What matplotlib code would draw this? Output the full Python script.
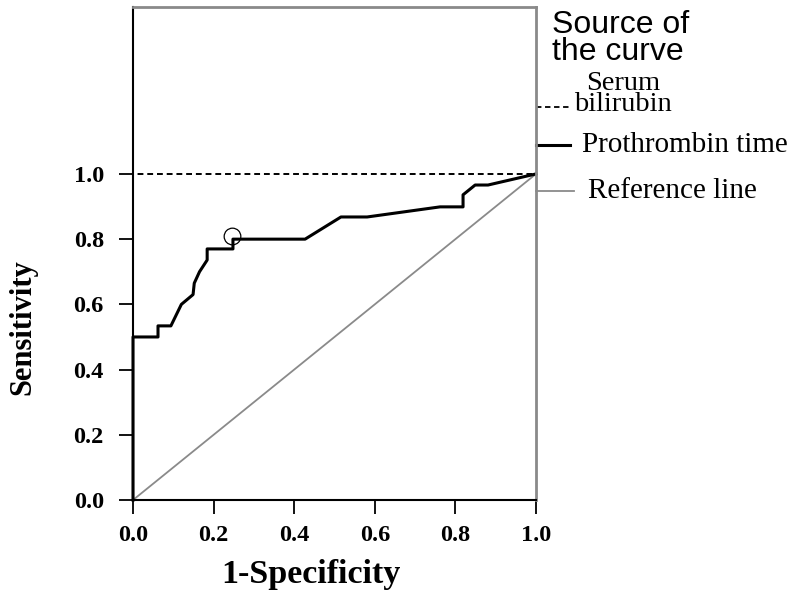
import matplotlib
matplotlib.use('Agg')
import matplotlib.pyplot as plt

# ROC data
pt_fpr = [0, 0, 0.062, 0.062, 0.094, 0.12, 0.149, 0.152, 0.165, 0.184, 0.184,
          0.248, 0.248, 0.427, 0.516, 0.581, 0.762, 0.819, 0.819, 0.849, 0.881, 1.0]
pt_tpr = [0, 0.5, 0.5, 0.534, 0.534, 0.6, 0.63, 0.665, 0.70, 0.736, 0.77,
          0.77, 0.80, 0.80, 0.868, 0.868, 0.899, 0.899, 0.936, 0.966, 0.966, 1.0]
sb_fpr = [0, 0, 1]
sb_tpr = [0, 1, 1]
ref_fpr = [0, 1]
ref_tpr = [0, 1]
cut_fpr = [0.245]
cut_tpr = [0.81]
ticks = [0.0, 0.2, 0.4, 0.6, 0.8, 1.0]

serif = 'Liberation Serif'
sans = 'Liberation Sans'

fig = plt.figure(figsize=(7.97, 5.92), dpi=100)
ax = fig.add_axes([0.1669, 0.1554, 0.5056, 0.8328])

ax.plot(ref_fpr, ref_tpr, color='#8a8a8a', lw=1.3)
ax.plot(sb_fpr, sb_tpr, color='black', lw=1.4, ls=(0, (3, 2)), clip_on=False)
ax.plot(pt_fpr, pt_tpr, color='black', lw=2.2, clip_on=False)
ax.plot(cut_fpr, cut_tpr, 'o', mfc='none', mec='black', ms=12, mew=0.9)

ax.set_xlim(0, 1)
ax.set_ylim(0, 1.512)
ax.set_xticks(ticks)
ax.set_yticks(ticks)
ax.set_xticklabels(['%.1f' % t for t in ticks], fontfamily=serif,
                   fontweight='bold', fontsize=17.5)
ax.set_yticklabels(['%.1f' % t for t in ticks], fontfamily=serif,
                   fontweight='bold', fontsize=17.5)
ax.tick_params(direction='out', length=10, width=1.3, color='black')
ax.tick_params(axis='x', pad=8)
ax.tick_params(axis='y', pad=11)

for s in ['left', 'bottom']:
    ax.spines[s].set_color('black')
    ax.spines[s].set_linewidth(1.5)
for s in ['top', 'right']:
    ax.spines[s].set_color('#8a8a8a')
    ax.spines[s].set_linewidth(2)

ax.set_xlabel('1-Specificity', fontfamily=serif, fontweight='bold', fontsize=24.5)
ax.set_ylabel('Sensitivity', fontfamily=serif, fontweight='bold', fontsize=22)
ax.xaxis.set_label_coords(0.442, -0.12)
ax.yaxis.set_label_coords(-0.238, 0.351)

# hand-made legend to the right of the axes
tr = ax.transAxes
ax.text(1.04, 0.994, 'Source of\nthe curve', transform=tr, fontfamily=sans,
        fontsize=23, va='top', ha='left', linespacing=0.88)
ax.plot([1.0, 1.09], [0.797, 0.797], transform=tr, color='black', lw=1.3,
        ls=(0, (3, 2)), clip_on=False)
ax.text(1.095, 0.824, 'Serum\nbilirubin', transform=tr, fontfamily=serif,
        fontsize=20.5, va='center', ha='left', multialignment='center',
        linespacing=0.8)
ax.plot([1.0, 1.085], [0.720, 0.720], transform=tr, color='black', lw=2.2,
        clip_on=False)
ax.text(1.114, 0.720, 'Prothrombin time', transform=tr, fontfamily=serif,
        fontsize=21, va='center', ha='left')
ax.plot([1.0, 1.095], [0.626, 0.626], transform=tr, color='#8a8a8a', lw=1.3,
        clip_on=False)
ax.text(1.128, 0.626, 'Reference line', transform=tr, fontfamily=serif,
        fontsize=21, va='center', ha='left')

fig.savefig('out.png', dpi=100)
